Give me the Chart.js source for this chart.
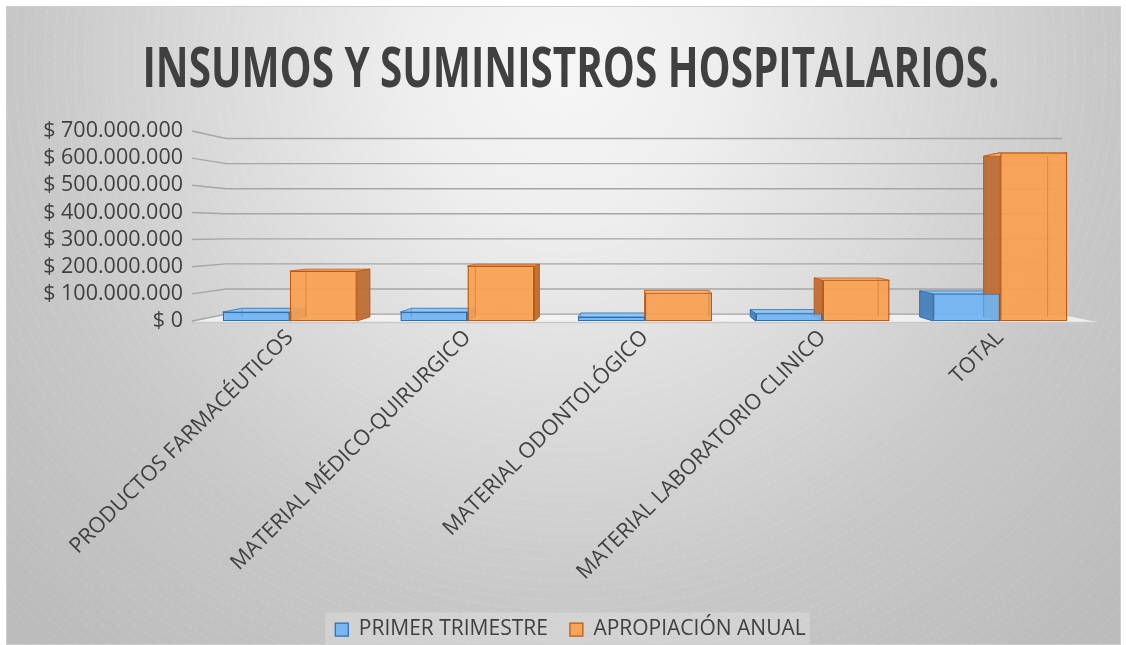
<!DOCTYPE html>
<html lang="es">
<head>
<meta charset="UTF-8">
<title>Insumos y suministros hospitalarios</title>
<script src="https://cdn.jsdelivr.net/npm/chart.js@4"></script>
<style>
  html, body { margin: 0; padding: 0; background: #fff; }
  canvas { display: block; }
</style>
</head>
<body>
<canvas id="chart" width="1126" height="645"></canvas>
<script>
// Datos del gráfico
const categories = [
  'PRODUCTOS FARMACÉUTICOS',
  'MATERIAL MÉDICO-QUIRURGICO',
  'MATERIAL ODONTOLÓGICO',
  'MATERIAL LABORATORIO CLINICO',
  'TOTAL'
]
const primerTrimestre = [33000000, 33000000, 15000000, 28000000, 100000000]
const apropiacionAnual = [184000000, 203000000, 102000000, 150000000, 620000000]
const yTickValues = [0, 100000000, 200000000, 300000000, 400000000, 500000000, 600000000, 700000000]

const TITLE = 'INSUMOS Y SUMINISTROS HOSPITALARIOS.'
const TEXT_COLOR = '#404040'
const FONT = '"Open Sans", sans-serif'

// Punto de fuga y profundidades para el efecto 3D
const VP = { x: 640, y: 230 }
const WALL_DEPTH = 0.076
const BAR_DEPTH = 0.046

// Posición vertical del área de trazado
const AREA_TOP = 131
const AREA_BOTTOM = 321

function toBack(x, y, t) {
  return [x + (VP.x - x) * t, y + (VP.y - y) * t]
}

function money(v) {
  return '$ ' + String(v).replace(/\B(?=(\d{3})+(?!\d))/g, '.')
}

function poly(ctx, pts, fill, stroke, lw) {
  ctx.beginPath()
  ctx.moveTo(pts[0][0], pts[0][1])
  for (let i = 1; i < pts.length; i++) ctx.lineTo(pts[i][0], pts[i][1])
  ctx.closePath()
  if (fill) { ctx.fillStyle = fill; ctx.fill() }
  if (stroke) { ctx.strokeStyle = stroke; ctx.lineWidth = lw || 1; ctx.stroke() }
}

const faceColors = [
  { side: 'rgba(70,128,188,0.95)', top: 'rgba(140,197,247,0.95)', edge: '#2e6fae' },
  { side: 'rgba(190,110,52,0.95)', top: 'rgba(251,178,110,0.95)', edge: '#c0580f' }
]

// Fondo degradado con anillos tenues, título y recuadro de la leyenda
const backdrop = {
  id: 'backdrop',
  afterLayout(chart) {
    // baja la leyenda y la centra bajo el gráfico
    const lg = chart.legend
    if (lg) {
      lg.top += 7; lg.bottom += 7
      lg.left += 26; lg.right += 26
    }
  },
  beforeDraw(chart) {
    const ctx = chart.ctx
    ctx.save()
    ctx.fillStyle = '#ffffff'
    ctx.fillRect(0, 0, chart.width, chart.height)

    const x0 = 7, y0 = 7, w = 1113, h = 637
    const g = ctx.createRadialGradient(565, 70, 0, 565, 70, 760)
    g.addColorStop(0, '#f6f6f6')
    g.addColorStop(0.2, '#eeeeee')
    g.addColorStop(0.7, '#c8c8c8')
    g.addColorStop(1, '#bcbcbc')
    ctx.fillStyle = g
    ctx.fillRect(x0, y0, w, h)

    ctx.beginPath()
    ctx.rect(x0, y0, w, h)
    ctx.clip()
    ctx.strokeStyle = 'rgba(255,255,255,0.14)'
    ctx.lineWidth = 1
    ctx.setLineDash([4, 3])
    for (let r = 120; r < 800; r += 10) {
      ctx.beginPath()
      ctx.arc(565, 60, r, 0, Math.PI * 2)
      ctx.stroke()
    }
    ctx.setLineDash([])
    ctx.restore()

    ctx.save()
    ctx.strokeStyle = '#cfcfcf'
    ctx.lineWidth = 1
    ctx.strokeRect(x0 - 0.5, y0 - 0.5, w + 1, h + 1)
    ctx.restore()

    // título
    ctx.save()
    ctx.font = 'bold 55px "Liberation Sans Narrow", "Open Sans", sans-serif'
    const tw = ctx.measureText(TITLE).width
    ctx.translate(571, 87)
    ctx.scale(857 / tw, 1)
    ctx.fillStyle = TEXT_COLOR
    ctx.textAlign = 'center'
    ctx.textBaseline = 'alphabetic'
    ctx.fillText(TITLE, 0, 0)
    ctx.restore()

    // fondo claro detrás de la leyenda
    const boxes = chart.legend && chart.legend.legendHitBoxes
    if (boxes && boxes.length) {
      const first = boxes[0], last = boxes[boxes.length - 1]
      const top = first.top + first.height / 2 - 17
      ctx.save()
      ctx.fillStyle = 'rgba(255,255,255,0.22)'
      ctx.fillRect(first.left - 10, top, last.left + last.width - first.left + 14, y0 + h - top)
      ctx.restore()
    }
  }
}

// Piso, líneas de división en la pared del fondo y caras laterales de las barras
const scene3d = {
  id: 'scene3d',
  beforeDatasetsDraw(chart) {
    const ctx = chart.ctx
    const area = chart.chartArea
    const yScale = chart.scales.y
    const L = area.left - 9, R = area.right + 8
    const B = yScale.getPixelForValue(0) + 1

    ctx.save()
    const fl = [[L, B], [R, B], toBack(R, B, WALL_DEPTH), toBack(L, B, WALL_DEPTH)]
    poly(ctx, fl, 'rgba(245,245,245,0.85)', null)
    ctx.beginPath()
    ctx.moveTo(L, B + 0.5); ctx.lineTo(R, B + 0.5)
    ctx.strokeStyle = '#c9c9c9'; ctx.lineWidth = 1.5; ctx.stroke()

    ctx.strokeStyle = '#a6a6a6'
    ctx.lineWidth = 1.4
    yTickValues.forEach(v => {
      const yf = yScale.getPixelForValue(v)
      const bl = toBack(L, yf, WALL_DEPTH)
      const br = toBack(R, yf, WALL_DEPTH)
      ctx.beginPath()
      ctx.moveTo(L, yf)
      ctx.lineTo(bl[0], bl[1])
      ctx.lineTo(br[0], bl[1])
      ctx.stroke()
    })

    chart.data.datasets.forEach((ds, di) => {
      const meta = chart.getDatasetMeta(di)
      const c = faceColors[di]
      meta.data.forEach(bar => {
        const l = bar.x - bar.width / 2, r = bar.x + bar.width / 2
        const top = bar.y, bot = bar.base
        const sx = bar.x < VP.x ? r : l
        const side = [[sx, top], [sx, bot], toBack(sx, bot, BAR_DEPTH), toBack(sx, top, BAR_DEPTH)]
        poly(ctx, side, c.side, c.edge, 1)
        const lid = [[l, top], [r, top], toBack(r, top, BAR_DEPTH), toBack(l, top, BAR_DEPTH)]
        poly(ctx, lid, c.top, c.edge, 0.8)
      })
    })
    ctx.restore()
  },
  afterDatasetsDraw(chart) {
    // aristas traseras vistas a través de las caras translúcidas
    const ctx = chart.ctx
    ctx.save()
    chart.data.datasets.forEach((ds, di) => {
      const meta = chart.getDatasetMeta(di)
      ctx.strokeStyle = di === 0 ? 'rgba(60,120,190,0.45)' : 'rgba(200,100,30,0.45)'
      ctx.lineWidth = 1
      meta.data.forEach(bar => {
        const sx = bar.x < VP.x ? bar.x - bar.width / 2 : bar.x + bar.width / 2
        const a = toBack(sx, bar.y, BAR_DEPTH)
        const b = toBack(sx, bar.base, BAR_DEPTH)
        ctx.beginPath()
        ctx.moveTo(a[0], a[1]); ctx.lineTo(b[0], b[1])
        ctx.stroke()
      })
    })
    ctx.restore()
  }
}

new Chart(document.getElementById('chart'), {
  type: 'bar',
  data: {
    labels: categories,
    datasets: [
      {
        label: 'PRIMER TRIMESTRE',
        data: primerTrimestre,
        backgroundColor: 'rgba(112,180,242,0.93)',
        borderColor: '#2e6fae',
        borderWidth: { left: 1.5, right: 1.5, top: 1, bottom: 1 },
        borderSkipped: false
      },
      {
        label: 'APROPIACIÓN ANUAL',
        data: apropiacionAnual,
        backgroundColor: 'rgba(248,160,80,0.93)',
        borderColor: '#c0580f',
        borderWidth: { left: 1.5, right: 1.5, top: 1, bottom: 1 },
        borderSkipped: false
      }
    ]
  },
  options: {
    responsive: false,
    animation: false,
    devicePixelRatio: 1,
    layout: { padding: { left: 0, right: 37, top: AREA_TOP, bottom: 2 } },
    categoryPercentage: 0.755,
    barPercentage: 1.0,
    plugins: {
      title: { display: false },
      tooltip: { enabled: false },
      legend: {
        position: 'bottom',
        labels: {
          color: TEXT_COLOR,
          font: { family: FONT, size: 21 },
          boxWidth: 13,
          boxHeight: 13,
          padding: 22
        }
      }
    },
    scales: {
      x: {
        grid: { display: false, drawTicks: false },
        border: { display: false },
        ticks: {
          color: TEXT_COLOR,
          font: { family: FONT, size: 21.5 },
          maxRotation: 45,
          minRotation: 45,
          autoSkip: false,
          padding: 4
        },
        afterFit(scale) {
          const legendH = scale.chart.legend ? scale.chart.legend.height : 0
          scale.height = scale.chart.height - 2 - legendH - AREA_BOTTOM
        }
      },
      y: {
        min: 0,
        max: 700000000,
        grid: { display: false, drawTicks: false },
        border: { display: false },
        afterBuildTicks(scale) {
          scale.ticks = yTickValues.map(v => ({ value: v }))
        },
        ticks: {
          color: TEXT_COLOR,
          font: { family: FONT, size: 21.5 },
          padding: 18,
          autoSkip: false,
          callback: v => money(v)
        },
        afterFit(scale) {
          scale.width = 201
        }
      }
    }
  },
  plugins: [backdrop, scene3d]
})
</script>
</body>
</html>
